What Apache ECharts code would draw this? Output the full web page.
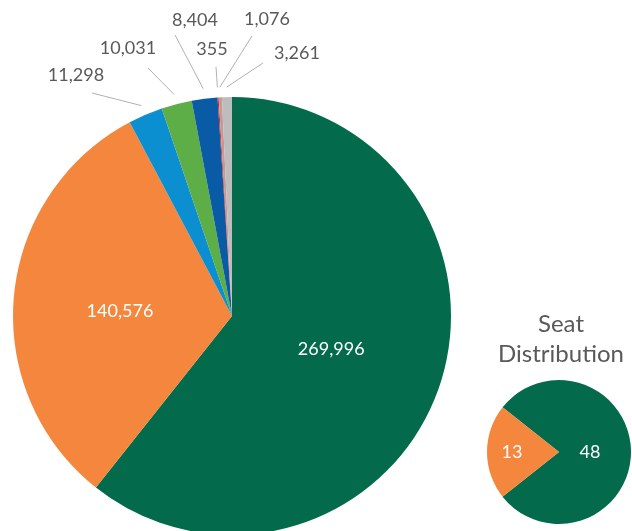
<!DOCTYPE html>
<html>
<head>
<meta charset="utf-8">
<script src="https://cdn.jsdelivr.net/npm/echarts@6/dist/echarts.min.js"></script>
<style>
  html, body { margin: 0; padding: 0; background: #fff; }
  #main { width: 632px; height: 531px; }
</style>
</head>
<body>
<div id="main"></div>
<script>
// vote counts, clockwise from 12 o'clock
var voteValues = [269996, 140576, 11298, 10031, 8404, 355, 1076, 3261];
var voteColors = ['#036b4b', '#f4873d', '#0b8fd0', '#5dae47', '#0a5ba6', '#d8232a', '#c49a95', '#bdbdbd'];
// seats
var seatValues = [48, 13];
var seatColors = ['#036b4b', '#f4873d'];

// where the outside labels sit (text centre) and where their leader line stops
var outerLabels = {
    2: { x: 76,  y: 75, lx: 92,  ly: 93 },
    3: { x: 128, y: 48, lx: 148, ly: 68 },
    4: { x: 195, y: 20, lx: 175, ly: 35 },
    5: { x: 212, y: 49, lx: 216, ly: 67 },
    6: { x: 267, y: 19, lx: 252, ly: 36 },
    7: { x: 297, y: 53, lx: 263, ly: 63 }
};

var fmt = function (v) { return v.toLocaleString('en-US'); };

var chart = echarts.init(document.getElementById('main'));

var voteData = voteValues.map(function (v, i) {
    var inside = i < 2;
    return {
        value: v,
        itemStyle: { color: voteColors[i] },
        label: inside ? { position: 'inside', color: '#fff', offset: i == 0 ? [-7, -4] : [0, 6] } : { position: 'outside', color: '#595959' },
        labelLine: { show: !inside }
    };
});

var option = {
    animation: false,
    textStyle: { fontFamily: 'Lato' },
    title: {
        text: 'Seat\nDistribution',
        left: 556,
        top: 304,
        textAlign: 'center',
        textStyle: { fontFamily: 'Lato', fontWeight: 'normal', fontSize: 24, lineHeight: 30, color: '#595959' }
    },
    series: [
        {
            type: 'pie',
            center: [232, 316],
            radius: 219,
            startAngle: 90,
            clockwise: true,
            avoidLabelOverlap: false,
            data: voteData,
            label: {
                fontSize: 18,
                formatter: function (p) { return fmt(p.value); }
            },
            labelLine: { lineStyle: { color: '#b0b0b0', width: 1 } },
            labelLayout: function (p) {
                var o = outerLabels[p.dataIndex];
                if (!o || !p.labelLinePoints) return {};
                var cx = 232, cy = 316;
                var p0 = p.labelLinePoints[0];
                var dx = p0[0] - cx, dy = p0[1] - cy;
                var d = Math.sqrt(dx * dx + dy * dy);
                var s = (d + 10) / d;
                var a = [cx + dx * s, cy + dy * s];
                return {
                    x: o.x,
                    y: o.y,
                    align: 'center',
                    verticalAlign: 'middle',
                    labelLinePoints: [a, [(a[0] + o.lx) / 2, (a[1] + o.ly) / 2], [o.lx, o.ly]]
                };
            },
            emphasis: { disabled: true }
        },
        {
            type: 'pie',
            center: [559, 452],
            radius: 72,
            startAngle: 141.6,
            clockwise: true,
            data: seatValues.map(function (v, i) {
                return { value: v, itemStyle: { color: seatColors[i] } };
            }),
            label: {
                position: 'inside',
                color: '#fff',
                fontSize: 18,
                offset: [-8, 0],
                formatter: '{c}'
            },
            labelLine: { show: false },
            emphasis: { disabled: true }
        }
    ]
};

chart.setOption(option);
</script>
</body>
</html>
